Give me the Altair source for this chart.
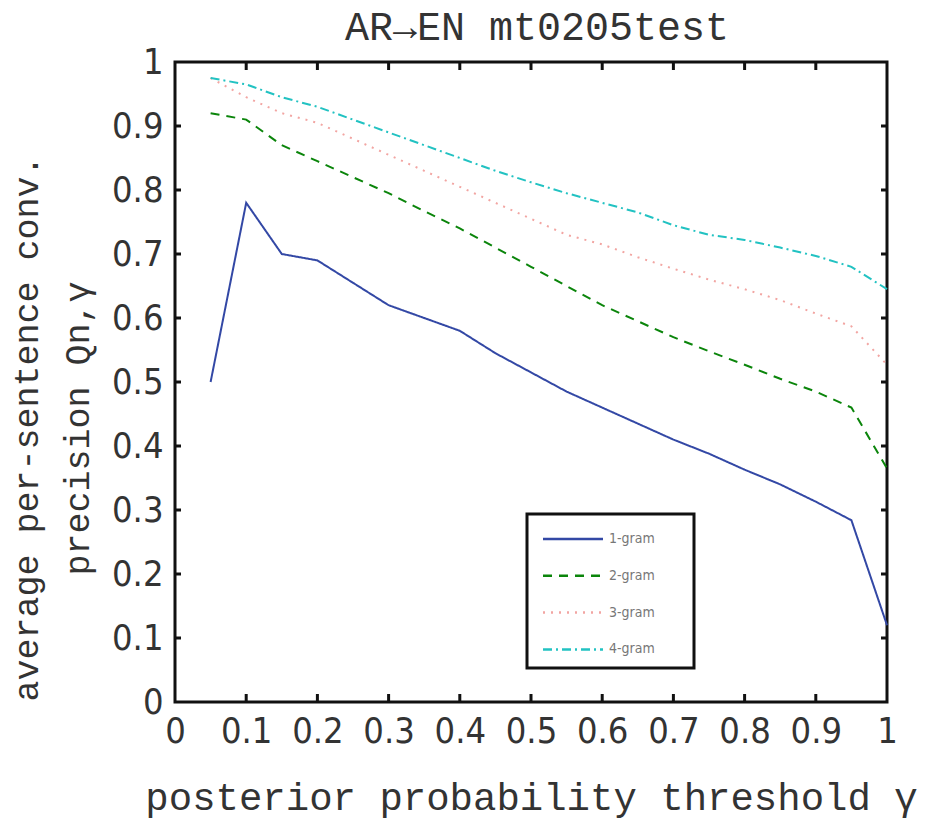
import altair as alt
import pandas as pd

# ---- data ----
gamma = [0.05, 0.10, 0.15, 0.20, 0.25, 0.30, 0.35, 0.40, 0.45, 0.50,
         0.55, 0.60, 0.65, 0.70, 0.75, 0.80, 0.85, 0.90, 0.95, 1.00]
gram1 = [0.50, 0.78, 0.70, 0.69, 0.655, 0.62, 0.60, 0.58, 0.545, 0.515,
         0.485, 0.46, 0.435, 0.41, 0.388, 0.363, 0.34, 0.313, 0.284, 0.12]
gram2 = [0.92, 0.91, 0.87, 0.845, 0.82, 0.795, 0.767, 0.74, 0.71, 0.68,
         0.65, 0.62, 0.595, 0.57, 0.548, 0.527, 0.505, 0.485, 0.46, 0.365]
gram3 = [0.975, 0.945, 0.92, 0.905, 0.88, 0.855, 0.83, 0.805, 0.78, 0.755,
         0.73, 0.715, 0.695, 0.677, 0.66, 0.645, 0.628, 0.607, 0.587, 0.527]
gram4 = [0.975, 0.965, 0.945, 0.93, 0.91, 0.89, 0.87, 0.85, 0.83, 0.812,
         0.795, 0.78, 0.765, 0.745, 0.73, 0.722, 0.71, 0.697, 0.68, 0.645]

series_names = ["1-gram", "2-gram", "3-gram", "4-gram"]
series_colors = ["#3348a5", "#0b850b", "#f2a5a2", "#22c2c2"]
series_dashes = [[1, 0], [9, 7], [2, 6], [9, 4, 2, 4]]

tick_values = [0, 0.1, 0.2, 0.3, 0.4, 0.5, 0.6, 0.7, 0.8, 0.9, 1.0]
inner_ticks = [0.1, 0.2, 0.3, 0.4, 0.5, 0.6, 0.7, 0.8, 0.9]

rows = []
for name, vals in zip(series_names, [gram1, gram2, gram3, gram4]):
    for g, v in zip(gamma, vals):
        rows.append({"gamma": g, "value": v, "series": name})
df = pd.DataFrame(rows)
xticks_df = pd.DataFrame({"gamma": inner_ticks})
yticks_df = pd.DataFrame({"value": inner_ticks})

W, H = 712, 640
NARROW = "Liberation Sans Narrow, DejaVu Sans Condensed, Liberation Sans"
MONO = "Liberation Mono, DejaVu Sans Mono"

xscale = alt.Scale(domain=[0, 1], nice=False, zero=False)
yscale = alt.Scale(domain=[0, 1], nice=False, zero=False)

BLANK = "\u2800"  # blank braille cell: widens the legend box (not trimmed like spaces)

lines = alt.Chart(df).mark_line(strokeWidth=2).encode(
    x=alt.X("gamma:Q", scale=xscale,
            axis=alt.Axis(values=tick_values, format=".1~f", tickSize=0, domain=False, grid=False,
                          labelFont=NARROW, labelFontSize=36, labelColor="#333", labelPadding=12,
                          labelFlush=False,
                          title="posterior probability threshold γ", titleFont=MONO,
                          titleFontSize=39, titleFontWeight="normal", titleColor="#333",
                          titlePadding=29)),
    y=alt.Y("value:Q", scale=yscale,
            axis=alt.Axis(values=tick_values, format=".1~f", tickSize=0, domain=False, grid=False,
                          labelFont=NARROW, labelFontSize=36, labelColor="#333", labelPadding=12,
                          labelFlush=False,
                          title=["average per-sentence conv.", "precision Qn,γ"], titleFont=MONO,
                          titleFontSize=35, titleFontWeight="normal", titleColor="#333",
                          titlePadding=16, titleLineHeight=51, titleY=366)),
    color=alt.Color("series:N", scale=alt.Scale(domain=series_names, range=series_colors),
                    legend=alt.Legend(orient="none", legendX=352, legendY=452, title=None,
                                      symbolType="M-2.4,0H2.4", symbolSize=625, symbolStrokeWidth=2.5,
                                      symbolOffset=21,
                                      labelFont=NARROW, labelFontSize=14, labelColor="#777",
                                      labelOffset=22, rowPadding=15.8, padding=11,
                                      labelExpr="datum.label + '" + BLANK * 3 + "'",
                                      strokeColor="#111")),
    strokeDash=alt.StrokeDash("series:N", scale=alt.Scale(domain=series_names, range=series_dashes),
                              legend=None),
)

tick_style = dict(color="#111", strokeWidth=3)
bottom_ticks = alt.Chart(xticks_df).mark_rule(**tick_style).encode(
    x=alt.X("gamma:Q", scale=xscale), y=alt.value(H), y2=alt.value(H - 8))
top_ticks = alt.Chart(xticks_df).mark_rule(**tick_style).encode(
    x=alt.X("gamma:Q", scale=xscale), y=alt.value(0), y2=alt.value(8))
left_ticks = alt.Chart(yticks_df).mark_rule(**tick_style).encode(
    y=alt.Y("value:Q", scale=yscale), x=alt.value(0), x2=alt.value(6))
right_ticks = alt.Chart(yticks_df).mark_rule(**tick_style).encode(
    y=alt.Y("value:Q", scale=yscale), x=alt.value(W), x2=alt.value(W - 6))

chart = alt.layer(lines, bottom_ticks, top_ticks, left_ticks, right_ticks).properties(
    width=W, height=H,
    title=alt.Title("AR→EN mt0205test", font=MONO, fontSize=40, fontWeight="normal",
                    color="#333", offset=14, dy=18, dx=6, anchor="middle"),
    autosize=alt.AutoSizeParams(type="none"),
    padding={"left": 167, "top": 54, "right": 37, "bottom": 120},
).configure_view(stroke="#111", strokeWidth=3).configure_legend(strokeWidth=3)

chart.save("out.html", embed_options={"renderer": "svg", "actions": False})
